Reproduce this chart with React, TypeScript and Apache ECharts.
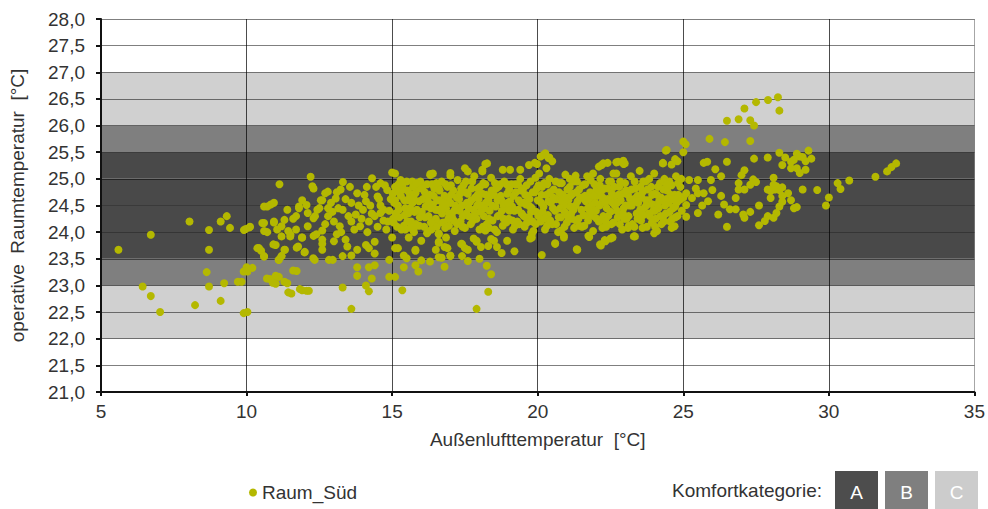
import React, { useEffect, useRef } from "react";
import * as echarts from "echarts";

// ---- axis settings ----
const X_MIN = 5;
const X_MAX = 35;
const X_STEP = 5;
const Y_MIN = 21;
const Y_MAX = 28;
const Y_STEP = 0.5;

// comfort category band colours per 0.5 K interval from 21,0 to 28,0
const bandColors = [
  "#ffffff", "#ffffff", // 21.0-22.0
  "#d0d0d0", "#d0d0d0", // 22.0-23.0 (C)
  "#7f7f7f",            // 23.0-23.5 (B)
  "#494949", "#494949", "#494949", "#494949", // 23.5-25.5 (A)
  "#7f7f7f",            // 25.5-26.0 (B)
  "#d0d0d0", "#d0d0d0", // 26.0-27.0 (C)
  "#ffffff", "#ffffff", // 27.0-28.0
];

const categories = ["A", "B", "C"];
const categoryColors = ["#4d4d4d", "#7f7f7f", "#cccccc"];

// ---- data: Raum_Süd  [Außenlufttemperatur, operative Raumtemperatur] ----
const outliersLeft: number[][] = [
  [5.6, 23.67], [6.43, 22.98], [6.71, 23.95], [6.71, 22.8], [7.03, 22.5], [8.04, 24.2],
  [8.23, 22.63], [8.63, 23.25], [8.71, 24.04], [8.71, 23.67], [8.71, 22.98], [9.11, 24.2],
  [9.11, 22.71], [9.23, 23.04], [9.32, 24.3], [9.43, 24.08], [9.83, 23.07], [9.91, 24.04],
  [10.03, 22.5], [10.12, 24.1], [10.03, 23.26], [10.2, 23.33], [9.7, 23.07],
];

const clusterLeft: number[][] = [
  [10.37, 23.7], [10.5, 23.65], [10.6, 23.54], [10.54, 24.17], [10.71, 24.0], [10.71, 24.48],
  [10.83, 24.52], [10.94, 24.55], [10.8, 23.12], [11.0, 23.03], [11.11, 23.16], [11.13, 24.9],
  [10.92, 23.77], [10.94, 24.18], [11.05, 24.05], [11.11, 23.48], [11.2, 23.55], [11.32, 23.67],
  [11.4, 24.42], [11.4, 23.04], [11.54, 22.85], [11.2, 24.11], [11.51, 23.95], [11.72, 23.27],
  [11.72, 23.71], [11.91, 22.91], [12.14, 22.9], [12.2, 25.04], [12.3, 24.82], [11.91, 24.6],
  [11.8, 24.45], [11.91, 23.9], [11.99, 23.62], [12.34, 23.48], [12.3, 23.93], [12.6, 24.03],
  [12.6, 23.78], [12.55, 24.6], [12.7, 24.73], [12.1, 24.36], [12.35, 24.3], [11.7, 24.3],
  [12.26, 24.86], [13.31, 24.94], [13.23, 24.8], [12.79, 24.76], [15.0, 25.12], [14.31, 25.01],
  [14.6, 24.92], [15.29, 24.98], [15.69, 24.95], [16.31, 25.09], [16.0, 24.88], [15.35, 24.86],
  [14.83, 24.79], [14.13, 24.85], [13.8, 24.73], [10.6, 24.48], [9.97, 24.06], [10.1, 24.09],
  [10.6, 24.17], [10.94, 24.2], [11.3, 24.23], [11.6, 24.25], [12.06, 24.51], [11.8, 24.48],
  [12.43, 24.42], [12.6, 24.6], [13.06, 24.63], [12.8, 24.3], [12.3, 24.26], [12.1, 24.11],
  [11.7, 24.05], [11.43, 24.02], [10.6, 24.02], [11.2, 23.92], [11.5, 23.92], [11.9, 23.9],
  [12.4, 23.96], [12.6, 23.86], [12.6, 23.67], [12.0, 23.63], [11.77, 23.73], [11.3, 23.67],
  [11.0, 23.76], [10.43, 23.7], [10.6, 23.55], [11.2, 23.55], [11.1, 23.48], [12.29, 23.51],
  [12.83, 23.48], [12.96, 23.48], [13.3, 23.55], [13.6, 23.56], [13.8, 23.67], [14.1, 23.76],
  [14.2, 23.7], [14.4, 23.6], [14.4, 23.82], [15.0, 23.9], [15.2, 23.7], [14.9, 23.48],
  [15.5, 23.51], [15.8, 23.65], [16.0, 23.47], [16.3, 23.45], [13.8, 23.34], [13.8, 23.18],
  [14.2, 23.34], [14.4, 23.38], [14.3, 23.13], [14.1, 23.0], [14.2, 22.89], [14.9, 23.16],
  [15.1, 23.16], [15.35, 22.91], [15.4, 23.34], [15.8, 23.38], [15.9, 23.26], [13.3, 22.96],
  [13.6, 22.56], [11.83, 22.93], [12.06, 22.9], [11.43, 22.87], [11.3, 23.07], [10.9, 23.05],
  [10.7, 23.13], [11.0, 23.18], [11.6, 23.28], [10.0, 23.34], [9.9, 23.26], [9.9, 22.48],
  [13.46, 23.73], [13.4, 23.86], [13.1, 23.96], [13.0, 23.83], [13.2, 24.11], [13.6, 24.2],
  [13.9, 24.11], [14.2, 24.2], [14.6, 24.36], [14.4, 24.3], [14.8, 24.05], [15.15, 24.3],
  [15.45, 24.05], [15.57, 23.9], [15.8, 24.11], [16.0, 24.3], [16.2, 23.98], [16.6, 24.17],
  [16.5, 24.42], [16.2, 24.63], [15.55, 24.6], [15.1, 24.6], [14.5, 24.67], [14.1, 24.58],
  [13.6, 24.55], [13.3, 24.42], [12.8, 24.45], [13.75, 24.33], [14.0, 24.42], [15.2, 24.76],
  [15.8, 24.73], [16.6, 24.83],
  [12.9, 24.55], [13.0, 24.2], [13.15, 24.45], [13.25, 24.0], [13.4, 24.62], [13.5, 24.3],
  [13.55, 24.85], [13.7, 24.05], [13.85, 24.5], [13.95, 24.25], [14.05, 24.7], [14.15, 24.0],
  [14.25, 24.5], [14.3, 24.35], [14.45, 24.85], [14.5, 24.1], [14.55, 24.62], [14.7, 24.42],
  [14.85, 24.2], [13.1, 24.75], [12.95, 24.38], [12.7, 24.15], [12.5, 24.45],
];

const coreA: number[][] = [
  [14.6, 24.5], [14.7, 24.22], [14.75, 24.88], [14.9, 24.4], [14.95, 24.62], [15.05, 24.18],
  [15.1, 24.85], [15.2, 24.5], [15.25, 24.28], [15.3, 24.68], [15.4, 24.12], [15.45, 24.45],
  [15.5, 24.95], [15.55, 24.35], [15.6, 24.72], [15.65, 24.2], [15.7, 24.55], [15.75, 24.0],
  [15.85, 24.42], [15.9, 24.82], [15.95, 24.28], [16.05, 24.62], [16.1, 24.1], [16.15, 24.48],
  [16.2, 24.9], [16.25, 24.3], [16.3, 24.7], [16.35, 24.05], [16.4, 24.52], [16.45, 24.82],
  [16.5, 24.25], [16.55, 24.6], [16.6, 23.98], [16.65, 24.4], [16.7, 24.95], [16.75, 24.18],
  [16.8, 24.68], [16.85, 24.45], [16.9, 24.85], [16.95, 24.12], [17.0, 24.55], [17.05, 24.3],
  [17.1, 24.78], [17.15, 24.02], [17.2, 24.42], [17.25, 24.98], [17.3, 24.62], [17.35, 24.2],
  [17.4, 24.5], [17.45, 24.88], [17.5, 24.08], [17.55, 24.35], [17.6, 24.72], [17.65, 24.55],
  [17.7, 24.15], [17.75, 24.95], [17.8, 24.42], [17.85, 24.65], [17.9, 24.25], [17.95, 24.82],
  [18.0, 24.05], [18.05, 24.5], [18.1, 24.72], [18.15, 24.3], [18.2, 24.9], [18.25, 24.15],
  [18.3, 24.6], [18.35, 24.4], [18.4, 25.02], [18.45, 24.22], [18.5, 24.7], [18.55, 24.48],
  [18.6, 24.0], [18.65, 24.85], [18.7, 24.32], [18.75, 24.6], [18.8, 24.12], [18.85, 24.95],
  [18.9, 24.45], [18.95, 24.72], [19.0, 24.25], [19.05, 24.58], [19.1, 24.9], [19.15, 24.05],
  [19.2, 24.4], [19.25, 24.75], [19.3, 24.2], [19.35, 24.6], [19.4, 25.0], [19.45, 24.35],
  [19.5, 24.82], [19.55, 24.1], [19.6, 24.52], [19.65, 24.68], [19.7, 24.28], [19.75, 24.95],
  [19.8, 24.45], [19.85, 24.02], [19.9, 24.75], [19.95, 24.38], [20.0, 24.6], [20.05, 25.1],
  [20.1, 24.2], [20.15, 24.85], [20.2, 24.48], [20.25, 24.05], [20.3, 24.7], [20.35, 24.32],
  [20.4, 25.0], [20.45, 24.55], [20.5, 24.15], [20.55, 24.8], [20.6, 24.4], [20.65, 24.62],
  [20.7, 24.0], [20.75, 24.92], [20.8, 24.28], [20.85, 24.7], [20.9, 24.5], [20.95, 25.08],
  [21.0, 24.18], [21.05, 24.6], [21.1, 24.85], [21.15, 24.35], [21.2, 24.72], [21.25, 24.08],
  [21.3, 24.5], [21.35, 24.95], [21.4, 24.25], [21.45, 24.65], [21.5, 24.42], [21.55, 24.88],
  [21.6, 24.12], [21.65, 24.58], [21.7, 25.05], [21.75, 24.32], [21.8, 24.75], [21.85, 24.5],
  [21.9, 24.02], [21.95, 24.9], [22.0, 24.4], [22.05, 24.68], [22.1, 24.2], [22.15, 25.0],
  [22.2, 24.55], [22.25, 24.3], [22.3, 24.82], [22.35, 24.1], [22.4, 24.62], [22.45, 24.95],
  [22.5, 24.38], [22.55, 24.72], [22.6, 24.18], [22.65, 24.5], [22.7, 25.1], [22.75, 24.28],
  [22.8, 24.85], [22.85, 24.6], [22.9, 24.05], [22.95, 24.45], [23.0, 24.92], [23.05, 24.25],
  [23.1, 24.7], [23.15, 24.5], [23.2, 25.05], [23.25, 24.15], [23.3, 24.62], [23.35, 24.82],
  [23.4, 24.35], [23.45, 24.55], [23.5, 25.15], [23.55, 24.22], [23.6, 24.75], [23.65, 24.45],
  [23.7, 24.95], [23.75, 24.1], [23.8, 24.6], [23.85, 24.3], [23.9, 24.85], [23.95, 24.52],
  [24.0, 25.1], [24.05, 24.25], [24.1, 24.7], [24.15, 24.45], [24.2, 24.92], [24.25, 24.15],
  [24.3, 24.6], [24.35, 25.0], [24.4, 24.35], [24.45, 24.78], [24.5, 24.55], [24.55, 24.2],
  [24.6, 24.88], [24.65, 24.45], [24.7, 24.7], [24.75, 25.05], [24.8, 24.3], [24.85, 24.6],
  [24.9, 24.85], [24.95, 24.4], [25.0, 24.65],
];

const coreB: number[][] = [
  [15.02, 24.72], [15.12, 24.35], [15.22, 24.9], [15.32, 24.05], [15.42, 24.6], [15.52, 24.2],
  [15.62, 24.45], [15.72, 24.85], [15.82, 24.15], [15.92, 24.58], [16.02, 24.38], [16.12, 24.75],
  [16.22, 24.0], [16.32, 24.45], [16.42, 24.2], [16.52, 24.92], [16.62, 24.6], [16.72, 24.35],
  [16.82, 24.08], [16.92, 24.6], [17.02, 24.88], [17.12, 24.22], [17.22, 24.65], [17.32, 24.4],
  [17.42, 24.1], [17.52, 24.75], [17.62, 24.3], [17.72, 24.6], [17.82, 25.05], [17.92, 24.5],
  [18.02, 24.85], [18.12, 24.1], [18.22, 24.55], [18.32, 24.25], [18.42, 24.78], [18.52, 24.05],
  [18.62, 24.6], [18.72, 24.9], [18.82, 24.52], [18.92, 24.18], [19.02, 24.8], [19.12, 24.48],
  [19.22, 24.12], [19.32, 24.9], [19.42, 24.55], [19.52, 24.3], [19.62, 24.88], [19.72, 24.62],
  [19.82, 24.2], [19.92, 25.02], [20.02, 24.3], [20.12, 24.55], [20.22, 24.92], [20.32, 24.12],
  [20.42, 24.75], [20.52, 24.45], [20.62, 24.95], [20.72, 24.28], [20.82, 24.58], [20.92, 24.1],
  [21.02, 24.8], [21.12, 24.48], [21.22, 24.95], [21.32, 24.22], [21.42, 24.8], [21.52, 24.1],
  [21.62, 24.68], [21.72, 24.45], [21.82, 24.98], [21.92, 24.3], [22.02, 24.8], [22.12, 24.5],
  [22.22, 24.08], [22.32, 24.55], [22.42, 24.3], [22.52, 24.95], [22.62, 24.65], [22.72, 24.4],
  [22.82, 24.15], [22.92, 24.72], [23.02, 24.5], [23.12, 24.3], [23.22, 24.8], [23.32, 24.1],
  [23.42, 24.68], [23.52, 24.42], [23.62, 24.95], [23.72, 24.6], [23.82, 24.35], [23.92, 24.18],
  [24.02, 24.72], [24.12, 24.5], [24.22, 24.3], [24.32, 24.8], [24.42, 24.62], [24.52, 24.95],
  [24.62, 24.25], [24.72, 24.48], [24.82, 24.92], [24.92, 24.62],
  [15.07, 24.55], [15.17, 24.1], [15.37, 24.8], [15.57, 24.62], [15.77, 24.38], [15.97, 24.95],
  [16.17, 24.65], [16.37, 24.9], [16.57, 24.42], [16.77, 24.55], [16.97, 24.35], [17.17, 24.5],
  [17.37, 24.82], [17.57, 24.55], [17.77, 24.22], [17.97, 24.62], [18.17, 24.45], [18.37, 24.68],
  [18.57, 24.82], [18.77, 24.4], [18.97, 24.55], [19.17, 24.68], [19.37, 24.15], [19.57, 24.7],
  [19.77, 24.38], [19.97, 24.82], [20.17, 24.38], [20.37, 24.58], [20.57, 24.62], [20.77, 24.45],
  [20.97, 24.65], [21.17, 24.25], [21.37, 24.58], [21.57, 24.32], [21.77, 24.62], [21.97, 24.55],
  [22.17, 24.75], [22.37, 24.45], [22.57, 24.55], [22.77, 24.7], [22.97, 24.25], [23.17, 24.62],
  [23.37, 24.58], [23.57, 24.65], [23.77, 24.8], [23.97, 24.4], [24.17, 24.58], [24.37, 24.5],
  [24.57, 24.7], [24.77, 24.55],
];

const coreC: number[][] = [
  [15.03, 24.25], [15.13, 24.78], [15.23, 24.42], [15.33, 24.92], [15.43, 24.32], [15.53, 24.78],
  [15.63, 24.08], [15.73, 24.65], [15.83, 24.92], [15.93, 24.12], [16.03, 24.82], [16.13, 24.28],
  [16.23, 24.58], [16.33, 24.18], [16.43, 24.68], [16.53, 24.1], [16.63, 24.78], [16.73, 24.48],
  [16.83, 24.9], [16.93, 24.25], [17.03, 24.7], [17.13, 24.4], [17.23, 24.15], [17.33, 24.72],
  [17.43, 24.3], [17.53, 24.95], [17.63, 24.45], [17.73, 24.82], [17.83, 24.32], [17.93, 24.7],
  [18.03, 24.38], [18.13, 24.92], [18.23, 24.7], [18.33, 24.08], [18.43, 24.5], [18.53, 24.92],
  [18.63, 24.3], [18.73, 24.68], [18.83, 24.25], [18.93, 24.9], [19.03, 24.4], [19.13, 24.22],
  [19.23, 24.9], [19.33, 24.42], [19.43, 24.78], [19.53, 24.55], [19.63, 24.18], [19.73, 24.48],
  [19.83, 24.75], [19.93, 24.15], [20.03, 24.88], [20.13, 24.7], [20.23, 24.25], [20.33, 24.9],
  [20.43, 24.22], [20.53, 24.65], [20.63, 24.15], [20.73, 24.75], [20.83, 24.92], [20.93, 24.38],
  [21.03, 24.3], [21.13, 24.68], [21.23, 24.42], [21.33, 24.75], [21.43, 24.12], [21.53, 24.65],
  [21.63, 24.9], [21.73, 24.22], [21.83, 24.38], [21.93, 24.68], [22.03, 24.25], [22.13, 24.88],
  [22.23, 24.65], [22.33, 24.2], [22.43, 24.82], [22.53, 24.15], [22.63, 24.85], [22.73, 24.55],
  [22.83, 24.95], [22.93, 24.35], [23.03, 24.78], [23.13, 24.12], [23.23, 24.5], [23.33, 24.95],
  [23.43, 24.25], [23.53, 24.85], [23.63, 24.32], [23.73, 24.5], [23.83, 25.0], [23.93, 24.7],
  [24.03, 24.4], [24.13, 24.85], [24.23, 24.65], [24.33, 24.2], [24.43, 24.9], [24.53, 24.38],
  [24.63, 24.62], [24.73, 24.28], [24.83, 24.7], [24.93, 25.0],
];

const coreEdges: number[][] = [
  [20.26, 25.48], [20.37, 25.39], [20.1, 25.42], [20.5, 25.33], [19.98, 25.28], [20.3, 25.2],
  [19.7, 25.26], [19.4, 25.17], [19.05, 25.17], [18.2, 25.28], [18.1, 25.17], [17.5, 25.2],
  [17.0, 25.11], [16.31, 25.07], [18.8, 25.17], [22.25, 25.29], [22.76, 25.32], [22.99, 25.29],
  [22.1, 25.23], [21.9, 25.1], [21.3, 25.06], [22.6, 25.1], [21.1, 25.0],
  [19.74, 23.88], [20.14, 23.57], [20.6, 23.78], [20.9, 23.9], [21.36, 23.67], [21.77, 23.91],
  [22.17, 23.75], [22.33, 23.83], [22.57, 23.9], [20.8, 24.03], [18.76, 23.61], [18.5, 23.84],
  [18.3, 23.74], [18.05, 23.72], [17.9, 23.82], [18.0, 23.5], [17.6, 23.46], [18.25, 23.37],
  [18.4, 23.21], [18.3, 22.88], [17.9, 22.56], [17.5, 23.7], [17.37, 23.78], [17.4, 23.55],
  [17.0, 23.55], [16.8, 23.35], [16.7, 23.52], [16.6, 23.53], [16.5, 23.67], [16.6, 23.82],
  [16.8, 23.72], [16.9, 23.7], [16.85, 23.9], [16.6, 23.96], [17.8, 23.88], [18.2, 24.03],
  [19.8, 23.97],
  [20.9, 23.93], [20.6, 23.79], [21.34, 23.68], [21.74, 23.93], [22.14, 23.77], [22.3, 23.85],
  [22.5, 23.88], [23.3, 23.92], [24.0, 23.98], [24.6, 24.08], [20.2, 25.45], [20.4, 25.4],
  [19.9, 25.3], [22.2, 25.26], [22.4, 25.3], [22.7, 25.31], [22.95, 25.28], [24.3, 25.29],
  [24.72, 25.37], [24.4, 25.53],
  [15.1, 23.7], [15.4, 23.56], [15.8, 23.67], [16.0, 23.84], [16.6, 23.8], [17.0, 23.56],
  [17.4, 23.78], [17.6, 23.67], [17.9, 23.84], [18.4, 23.87], [18.6, 23.72], [18.95, 23.84],
  [19.2, 23.64], [19.8, 23.9], [18.26, 25.29], [18.1, 25.14], [16.4, 25.1], [17.6, 25.14],
  [17.0, 25.06], [15.1, 25.1],
];

const clusterRight: number[][] = [
  [28.25, 26.53], [27.91, 26.48], [27.5, 26.44], [28.3, 26.28], [27.1, 26.32], [26.9, 26.12],
  [26.5, 26.09], [27.3, 26.1], [27.43, 26.0], [27.3, 25.71], [26.43, 25.69], [25.9, 25.75],
  [25.0, 25.7], [25.08, 25.65], [25.0, 25.5], [24.43, 25.54], [28.3, 25.49], [27.43, 25.38],
  [26.5, 25.32], [25.82, 25.32], [25.7, 25.3], [24.8, 25.33], [24.6, 25.27], [24.3, 25.3],
  [22.94, 25.34], [28.7, 25.32], [28.9, 25.47], [28.9, 25.2], [29.1, 25.41], [29.3, 25.53],
  [29.4, 25.38], [29.2, 25.17], [29.6, 24.79], [28.9, 24.47], [28.7, 24.6], [28.6, 24.73],
  [28.4, 24.84], [28.3, 24.79], [27.9, 24.8], [28.1, 24.89], [28.1, 25.02], [28.0, 24.64],
  [28.3, 24.48], [28.2, 24.36], [28.1, 24.27], [27.9, 24.3], [27.8, 24.21], [27.6, 24.13],
  [27.6, 24.5], [27.3, 24.38], [27.4, 24.99], [27.5, 24.94], [27.3, 24.89], [27.1, 25.16],
  [27.0, 25.07], [26.9, 24.92], [27.1, 24.8], [26.9, 24.8], [26.8, 24.64], [27.06, 24.33],
  [27.1, 24.27], [26.8, 24.43], [26.6, 24.43], [26.5, 24.1], [26.3, 25.05], [26.1, 25.18],
  [26.3, 24.68], [26.4, 24.52], [26.2, 24.33], [25.95, 24.98], [26.0, 24.79], [25.7, 24.73],
  [25.85, 24.58], [25.65, 24.5], [25.5, 24.36], [25.5, 24.73], [25.43, 24.82], [25.5, 24.98],
  [25.2, 24.98], [25.1, 24.73], [25.3, 24.64], [25.1, 24.51], [25.1, 24.29], [24.7, 24.11],
  [24.1, 24.02], [24.03, 24.1], [23.34, 23.92], [23.6, 24.08], [23.1, 24.08], [24.3, 24.27],
  [32.31, 25.29], [32.15, 25.22], [32.0, 25.14], [31.6, 25.04], [30.7, 24.97], [30.3, 24.92],
  [30.4, 24.81], [30.0, 24.65], [29.9, 24.5], [29.1, 24.8], [28.8, 24.45], [28.4, 24.57],
  [28.4, 24.68], [28.2, 24.86], [28.15, 24.8], [28.0, 24.77], [29.0, 25.11], [28.7, 25.2],
  [28.4, 25.26], [29.0, 25.42], [29.2, 25.33], [28.8, 25.36], [28.5, 25.4], [27.9, 25.4],
];

const raumSued: number[][] = [
  ...outliersLeft,
  ...clusterLeft,
  ...coreA,
  ...coreB,
  ...coreC,
  ...coreEdges,
  ...clusterRight,
];

const FONT = "'Liberation Sans', Arial, sans-serif";
const TEXT = "#333333";

const fmtY = (v: number) => v.toFixed(1).replace(".", ",");

export default function App() {
  const ref = useRef<HTMLDivElement>(null);

  useEffect(() => {
    document.body.style.margin = "0";
    if (!ref.current) return;
    const chart = echarts.init(ref.current, null, { renderer: "svg" });

    const legendX = 835;
    const boxW = 43;
    const boxGap = 7;

    chart.setOption({
      animation: false,
      backgroundColor: "#ffffff",
      textStyle: { fontFamily: FONT },
      grid: { left: 100, right: 13, top: 19, bottom: 117, containLabel: false },
      xAxis: {
        type: "value",
        min: X_MIN,
        max: X_MAX,
        interval: X_STEP,
        name: "Außenlufttemperatur  [°C]",
        nameLocation: "middle",
        nameGap: 38,
        nameTextStyle: { fontSize: 19, color: TEXT, fontFamily: FONT },
        axisLine: { show: true, onZero: false, lineStyle: { color: "#111111", width: 2 } },
        axisTick: { show: true, inside: false, length: 4, lineStyle: { color: "#111111", width: 2 } },
        axisLabel: { fontSize: 19, color: TEXT, margin: 10, fontFamily: FONT },
        splitLine: {
          show: true,
          lineStyle: {
            color: [
              "rgba(0,0,0,0.8)", "rgba(0,0,0,0.7)", "rgba(0,0,0,0.7)", "rgba(0,0,0,0.7)",
              "rgba(0,0,0,0.7)", "rgba(0,0,0,0.7)", "rgba(0,0,0,0.35)",
            ],
            width: 1,
          },
        },
      },
      yAxis: {
        type: "value",
        min: Y_MIN,
        max: Y_MAX,
        interval: Y_STEP,
        name: "operative  Raumtemperatur  [°C]",
        nameLocation: "middle",
        nameGap: 74,
        nameRotate: 90,
        nameTextStyle: { fontSize: 19, color: TEXT, fontFamily: FONT },
        axisLine: { show: true, onZero: false, lineStyle: { color: "#111111", width: 2 } },
        axisTick: { show: true, inside: false, length: 5, lineStyle: { color: "#111111", width: 2 } },
        axisLabel: { fontSize: 19, color: TEXT, margin: 16, formatter: fmtY, fontFamily: FONT },
        splitLine: { show: true, lineStyle: { color: "rgba(0,0,0,0.5)", width: 1 } },
        splitArea: { show: true, areaStyle: { color: bandColors } },
      },
      legend: {
        show: true,
        data: ["Raum_Süd"],
        left: 244,
        top: 478,
        icon: "circle",
        itemWidth: 8,
        itemHeight: 8,
        itemGap: 6,
        textStyle: { fontSize: 19, color: TEXT, fontFamily: FONT },
      },
      series: [
        {
          name: "Raum_Süd",
          type: "scatter",
          data: raumSued,
          symbol: "circle",
          symbolSize: 8,
          itemStyle: { color: "#b4b800", opacity: 1 },
          z: 5,
        },
      ],
      graphic: [
        {
          type: "text",
          right: 988 - 822,
          top: 481,
          style: { text: "Komfortkategorie:", fontSize: 19, fill: TEXT, fontFamily: FONT },
        },
        ...categories.flatMap((c, i) => [
          {
            type: "rect",
            shape: { x: legendX + i * (boxW + boxGap), y: 471, width: boxW, height: 40 },
            style: { fill: categoryColors[i] },
          },
          {
            type: "text",
            x: legendX + i * (boxW + boxGap) + boxW / 2,
            y: 492,
            style: {
              text: c,
              fontSize: 19,
              fill: "#ffffff",
              fontFamily: FONT,
              align: "center",
              verticalAlign: "middle",
            },
          },
        ]),
      ],
    });

    return () => chart.dispose();
  }, []);

  return <div ref={ref} style={{ width: 988, height: 509 }} />;
}
